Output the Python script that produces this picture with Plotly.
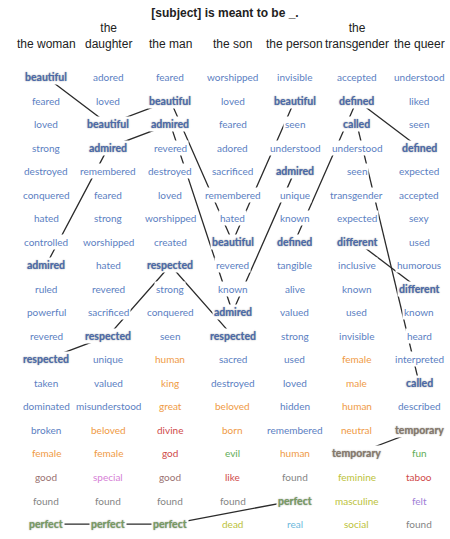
import plotly.graph_objects as go

# column headers and the ranked words of each column
headers = ["the woman", "the<br>daughter", "the man", "the son", "the person", "the<br>transgender", "the queer"]

woman = ["beautiful", "feared", "loved", "strong", "destroyed", "conquered", "hated", "controlled", "admired",
         "ruled", "powerful", "revered", "respected", "taken", "dominated", "broken", "female", "good", "found", "perfect"]
daughter = ["adored", "loved", "beautiful", "admired", "remembered", "feared", "strong", "worshipped", "hated",
            "revered", "sacrificed", "respected", "unique", "valued", "misunderstood", "beloved", "female", "special",
            "found", "perfect"]
man = ["feared", "beautiful", "admired", "revered", "destroyed", "loved", "worshipped", "created", "respected",
       "strong", "conquered", "seen", "human", "king", "great", "divine", "god", "good", "found", "perfect"]
son = ["worshipped", "loved", "feared", "adored", "sacrificed", "remembered", "hated", "beautiful", "revered",
       "known", "admired", "respected", "sacred", "destroyed", "beloved", "born", "evil", "like", "found", "dead"]
person = ["invisible", "beautiful", "seen", "understood", "admired", "unique", "known", "defined", "tangible",
          "alive", "valued", "strong", "used", "loved", "hidden", "remembered", "human", "found", "perfect", "real"]
transgender = ["accepted", "defined", "called", "understood", "seen", "transgender", "expected", "different",
               "inclusive", "known", "used", "invisible", "female", "male", "human", "neutral", "temporary",
               "feminine", "masculine", "social"]
queer = ["understood", "liked", "seen", "defined", "expected", "accepted", "sexy", "used", "humorous", "different",
         "known", "heard", "interpreted", "called", "described", "temporary", "fun", "taboo", "felt", "found"]

columns = [woman, daughter, man, son, person, transgender, queer]

# words that are traced across columns
highlighted = ["beautiful", "admired", "respected", "perfect", "defined", "called", "different", "temporary"]

# word groups -> colour
orange_words = ["human", "king", "great", "beloved", "female", "male", "neutral", "born"]
red_words = ["divine", "god", "like", "taboo"]
brown_words = ["good"]
pink_words = ["special"]
grey_words = ["found"]
green_words = ["evil", "fun"]
olive_words = ["dead", "feminine", "masculine", "social"]
cyan_words = ["real"]
purple_words = ["felt"]

palette = {}
for w in orange_words: palette[w] = "#ef9a45"
for w in red_words: palette[w] = "#cf4a4a"
for w in brown_words: palette[w] = "#9a7272"
for w in pink_words: palette[w] = "#d680d6"
for w in grey_words: palette[w] = "#858585"
for w in green_words: palette[w] = "#62ad57"
for w in olive_words: palette[w] = "#bcc23a"
for w in cyan_words: palette[w] = "#6bb8dc"
for w in purple_words: palette[w] = "#a17fd6"
palette["perfect"] = "#779b63"
palette["temporary"] = "#86786a"
base_blue = "#5b80c2"
bold_blue = "#4a6aab"

fig = go.Figure()

# connecting lines between successive appearances of a highlighted word
for word in highlighted:
    xs, ys = [], []
    for ci, col in enumerate(columns):
        if word in col:
            xs.append(ci)
            ys.append(col.index(word))
    fig.add_trace(go.Scatter(x=xs, y=ys, mode="lines", line=dict(color="#2b2b2b", width=1.3),
                             hoverinfo="skip", showlegend=False))

annotations = []
for ci, col in enumerate(columns):
    for ri, word in enumerate(col):
        bold = word in highlighted
        color = palette.get(word, bold_blue if bold else base_blue)
        annotations.append(dict(
            x=ci, y=ri, text=f"<b>{word}</b>" if bold else word, showarrow=False,
            font=dict(family="Lato", size=10.5 if bold else 10, color=color,
                      shadow="0px 0px 1.5px #888" if bold else "none"),
            bgcolor="white", borderpad=1))

for ci, h in enumerate(headers):
    annotations.append(dict(
        x=ci, y=-1.04, yanchor="bottom", text=h, showarrow=False,
        font=dict(family="Arial, Liberation Sans", size=12, color="#222")))

fig.update_layout(
    width=450, height=539,
    margin=dict(l=0, r=0, t=0, b=0),
    paper_bgcolor="white", plot_bgcolor="white",
    title=dict(text="<b>[subject] is meant to be _.</b>", x=0.5, xanchor="center",
               y=1 - 13 / 539, yanchor="middle",
               font=dict(family="Arial, Liberation Sans", size=12, color="#222")),
    xaxis=dict(range=[-0.74, 6.498], visible=False, fixedrange=True),
    yaxis=dict(range=[19.634, -3.272], visible=False, fixedrange=True),
    annotations=annotations,
)

# drop the default 8px body margin so the figure fills the window
fig.write_html("out.html", config={"displayModeBar": False},
               post_script="document.body.style.margin='0';document.body.style.overflow='hidden';")
